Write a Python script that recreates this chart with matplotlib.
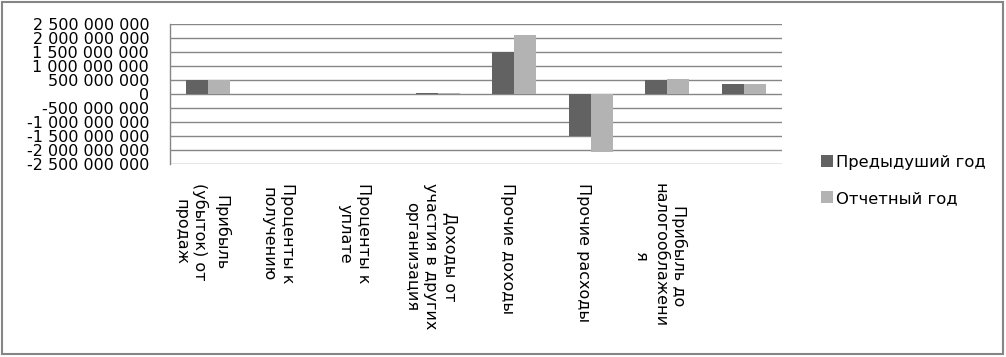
import numpy as np
import matplotlib
matplotlib.use("Agg")
import matplotlib.pyplot as plt
from matplotlib.ticker import FuncFormatter, MultipleLocator
from matplotlib.transforms import ScaledTranslation
from matplotlib.patches import Rectangle

plt.rcParams['font.family'] = ['DejaVu Sans']

# categories (wrapped like the original)
categories = [
    "Прибыль\n(убыток) от\nпродаж",
    "Проценты к\nполучению",
    "Проценты к\nуплате",
    "Доходы от\nучастия в других\nорганизация",
    "Прочие доходы",
    "Прочие расходы",
    "Прибыль до\nналогооблажени\nя",
    "",
]
prev_year = [500e6, 0, 0, 30e6, 1490e6, -1500e6, 500e6, 357e6]
curr_year = [495e6, 0, 0, 28e6, 2110e6, -2060e6, 535e6, 357e6]
series_names = ["Предыдуший год", "Отчетный год"]

dark = "#626262"
light = "#b3b3b3"
grid_c = "#868686"

fig = plt.figure(figsize=(10.06, 3.57), dpi=100)
ax = fig.add_axes([170 / 1006, 1 - 164 / 357, 612 / 1006, 140 / 357])

x = np.arange(len(categories))
w = 0.288
ax.bar(x - w / 2, prev_year, w, color=dark, label=series_names[0], zorder=3)
ax.bar(x + w / 2, curr_year, w, color=light, label=series_names[1], zorder=3)

ax.set_xlim(-0.5, len(categories) - 0.5)
ax.set_ylim(-2.5e9, 2.5e9)
ax.yaxis.set_major_locator(MultipleLocator(5e8))
ax.yaxis.set_major_formatter(FuncFormatter(
    lambda v, p: "{:,.0f}".format(v).replace(",", " ")))
ax.grid(axis="y", color=grid_c, linewidth=1, zorder=0)
ax.set_axisbelow(True)

for s in ["top", "right", "bottom"]:
    ax.spines[s].set_visible(False)
ax.spines["left"].set_color(grid_c)
ax.spines["left"].set_linewidth(1)

ax.tick_params(axis="y", length=0, pad=15, labelsize=11.5, labelcolor="black")
ax.tick_params(axis="x", length=0, pad=14)
ax.set_xticks(x)
ax.set_xticklabels(categories, rotation=270, fontsize=11.5,
                   multialignment="center", linespacing=1.35)
shift = ScaledTranslation(-7 / 100, 0, fig.dpi_scale_trans)
for lbl in ax.get_xticklabels():
    lbl.set_transform(lbl.get_transform() + shift)

leg = fig.legend(loc="upper left", bbox_to_anchor=(806 / 1006, 1 - 140 / 357),
                 frameon=False, fontsize=11.8, handlelength=0.75,
                 handleheight=0.75, handletextpad=0.2, labelspacing=1.3)

fig.patches.append(Rectangle((2 / 1006, 3 / 357), 1001 / 1006, 352 / 357,
                             transform=fig.transFigure, fill=False,
                             edgecolor=grid_c, linewidth=1.5))

fig.savefig("out.png", dpi=100)
